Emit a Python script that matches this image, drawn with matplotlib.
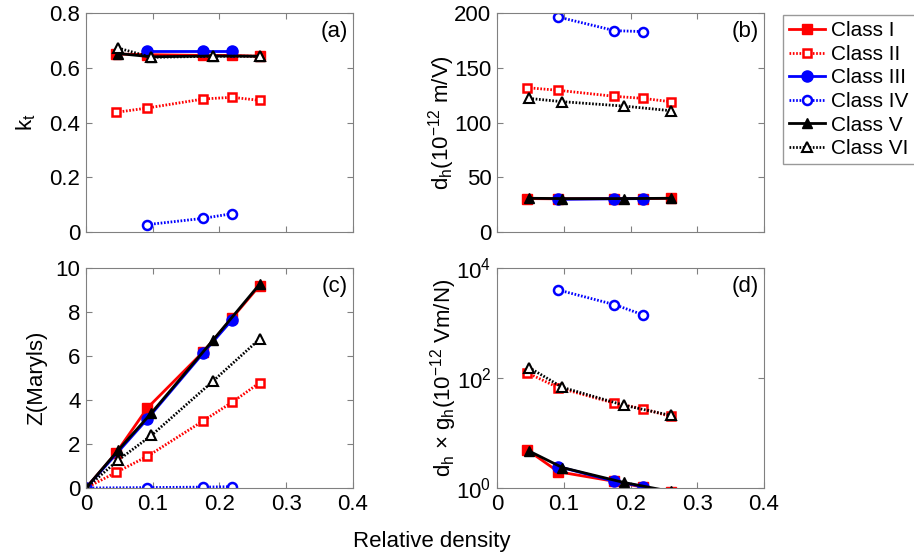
import numpy as np
import matplotlib
matplotlib.use('Agg')
from matplotlib import pyplot as plt

plt.rcParams['font.family'] = ['Liberation Sans', 'DejaVu Sans']
plt.rcParams['mathtext.fontset'] = 'custom'
plt.rcParams['mathtext.rm'] = 'Liberation Sans'
plt.rcParams['mathtext.it'] = 'Liberation Sans'

# relative density for each class
x_I = [0.045, 0.092, 0.176, 0.219, 0.26]
x_II = [0.045, 0.092, 0.176, 0.219, 0.26]
x_III = [0.092, 0.176, 0.219]
x_IV = [0.092, 0.176, 0.219]
x_V = [0.048, 0.098, 0.19, 0.26]
x_VI = [0.048, 0.098, 0.19, 0.26]

# (a) kt
kt_I = [0.65, 0.648, 0.645, 0.645, 0.642]
kt_II = [0.437, 0.453, 0.486, 0.492, 0.481]
kt_III = [0.66, 0.66, 0.66]
kt_IV = [0.027, 0.05, 0.067]
kt_V = [0.652, 0.64, 0.643, 0.642]
kt_VI = [0.672, 0.638, 0.642, 0.642]

# (b) dh
dh_I = [30.5, 30.3, 30.5, 30.5, 30.8]
dh_II = [131.8, 129.4, 123.9, 122, 119]
dh_III = [29.8, 30.3, 30.5]
dh_IV = [196.3, 183.9, 183]
dh_V = [30.8, 30.5, 30.5, 30.8]
dh_VI = [122, 119, 115, 110.8]

# (c) Z, curves start at the origin
zx_I = [0] + x_I
zx_II = [0] + x_II
zx_III = [0] + x_III
zx_IV = [0] + x_IV
zx_V = [0] + x_V
zx_VI = [0] + x_VI
z_I = [0, 1.59, 3.64, 6.2, 7.73, 9.2]
z_II = [0, 0.71, 1.44, 3.06, 3.9, 4.78]
z_III = [0, 3.14, 6.15, 7.65]
z_IV = [0, 0.02, 0.04, 0.06]
z_V = [0, 1.71, 3.41, 6.71, 9.26]
z_VI = [0, 1.26, 2.39, 4.85, 6.77]

# (d) dh x gh
dg_I = [4.96, 1.97, 1.32, 1.03, 0.85]
dg_II = [125, 66.5, 34.8, 27.5, 20]
dg_III = [2.45, 1.32, 1.06]
dg_IV = [3981, 2158, 1407]
dg_V = [4.7, 2.35, 1.26, 0.87]
dg_VI = [155, 67.5, 32, 20.9]

labels = ['Class I', 'Class II', 'Class III', 'Class IV', 'Class V', 'Class VI']
dots = (0, (0.6, 0.6))
styles = [
    dict(color='#ff0000', ls='-', marker='s', ms=7, mfc='#ff0000'),
    dict(color='#ff0000', ls=dots, marker='s', ms=6, mfc='white', mew=1.8),
    dict(color='#0000ff', ls='-', marker='o', ms=8, mfc='#0000ff'),
    dict(color='#0000ff', ls=dots, marker='o', ms=6.5, mfc='white', mew=1.8),
    dict(color='black', ls='-', marker='^', ms=7, mfc='black'),
    dict(color='black', ls=dots, marker='^', ms=6.5, mfc='white', mew=1.5),
]

xs = [x_I, x_II, x_III, x_IV, x_V, x_VI]
zxs = [zx_I, zx_II, zx_III, zx_IV, zx_V, zx_VI]
panels = [
    ([kt_I, kt_II, kt_III, kt_IV, kt_V, kt_VI], xs),
    ([dh_I, dh_II, dh_III, dh_IV, dh_V, dh_VI], xs),
    ([z_I, z_II, z_III, z_IV, z_V, z_VI], zxs),
    ([dg_I, dg_II, dg_III, dg_IV, dg_V, dg_VI], xs),
]

FS = 16
W, H = 914, 560
fig = plt.figure(figsize=(W / 100, H / 100), dpi=100)
boxes = [(86, 13, 267, 219), (497, 13, 267, 219), (86, 268, 267, 220), (497, 268, 267, 220)]
axes = [fig.add_axes([l / W, 1 - (t + h) / H, w / W, h / H]) for l, t, w, h in boxes]

for ax, (ys, xx) in zip(axes, panels):
    for x, y, st in zip(xx, ys, styles):
        ax.plot(x, y, lw=2, **st)
    ax.set_xlim(0, 0.4)
    ax.set_xticks([0, 0.1, 0.2, 0.3, 0.4])
    ax.tick_params(direction='in', top=True, right=True, labelsize=FS, length=4,
                   color='#808080', pad=4)
    for s in ax.spines.values():
        s.set_color('#808080')

ax_a, ax_b, ax_c, ax_d = axes
ax_a.set_ylim(0, 0.8)
ax_a.set_yticks([0, 0.2, 0.4, 0.6, 0.8])
ax_a.set_yticklabels(['0', '0.2', '0.4', '0.6', '0.8'])
ax_a.set_xticklabels([])
ax_a.set_ylabel('k$_\\mathregular{t}$', fontsize=FS, labelpad=8)

ax_b.set_ylim(0, 200)
ax_b.set_yticks([0, 50, 100, 150, 200])
ax_b.set_xticklabels([])
ax_b.set_ylabel('d$_\\mathregular{h}$(10$^{\\mathregular{-12}}$ m/V)', fontsize=FS, labelpad=-2)

ax_c.set_ylim(0, 10)
ax_c.set_yticks([0, 2, 4, 6, 8, 10])
ax_c.set_xticklabels(['0', '0.1', '0.2', '0.3', '0.4'])
ax_c.set_ylabel('Z(Maryls)', fontsize=FS, labelpad=6)

ax_d.set_yscale('log')
ax_d.set_ylim(1, 1e4)
ax_d.set_yticks([1, 100, 10000])
ax_d.set_yticklabels(['10$^{\\mathregular{0}}$', '10$^{\\mathregular{2}}$', '10$^{\\mathregular{4}}$'])
ax_d.minorticks_off()
ax_d.set_xticklabels(['0', '0.1', '0.2', '0.3', '0.4'])
ax_d.set_ylabel('d$_\\mathregular{h}$ \u00d7 g$_\\mathregular{h}$(10$^{\\mathregular{-12}}$ Vm/N)',
                fontsize=FS, labelpad=-2)

for ax, tag in zip(axes, ['(a)', '(b)', '(c)', '(d)']):
    ax.text(0.98, 0.965, tag, transform=ax.transAxes, ha='right', va='top', fontsize=FS)

fig.text(432 / W, 1 - 541 / H, 'Relative density', ha='center', va='center', fontsize=FS)

handles = ax_a.get_lines()
leg = fig.legend(handles, labels, loc='upper left', bbox_to_anchor=(783 / W, 1 - 15 / H),
                 fontsize=15, frameon=True, fancybox=False, borderaxespad=0,
                 handlelength=1.7, handletextpad=0.3, labelspacing=0.22, borderpad=0.3)
leg.get_frame().set_edgecolor('#808080')
leg.get_frame().set_linewidth(1)

fig.savefig('out.png', dpi=100)
